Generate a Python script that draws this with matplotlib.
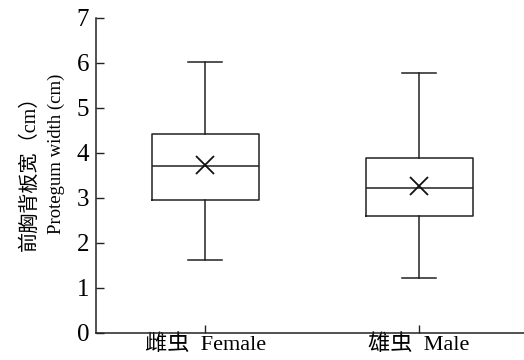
import matplotlib
matplotlib.use("Agg")
import matplotlib.pyplot as plt

categories = ["雌虫  Female", "雄虫  Male"]
whislo = [1.61, 1.21]
q1 = [2.95, 2.60]
med = [3.70, 3.21]
q3 = [4.43, 3.89]
whishi = [6.03, 5.77]
mean = [3.74, 3.26]
yticks = [0, 1, 2, 3, 4, 5, 6, 7]
ylabel_cn = "前胸背板宽（cm）"
ylabel_en = "Protegum width (cm)"

plt.rcParams['font.family'] = ['Liberation Serif', 'Noto Sans CJK SC']

fig = plt.figure(figsize=(5.24, 3.6), dpi=100)
ax = fig.add_axes([96/524, (360-332.7)/360, 1-96/524, (332.7-18)/360])

stats = []
for i, c in enumerate(categories):
    stats.append(dict(label=c, whislo=whislo[i], q1=q1[i], med=med[i], q3=q3[i],
                      whishi=whishi[i], mean=mean[i], fliers=[]))

lp = dict(color='#222222', linewidth=1.1)
ax.bxp(stats, positions=[1, 2], widths=0.5, showmeans=True, meanline=False,
       boxprops=lp, whiskerprops=lp, capprops=lp,
       medianprops=dict(color='#222222', linewidth=1.1),
       meanprops=dict(marker='x', markeredgecolor='#111111', markersize=13, markeredgewidth=1.3),
       capwidths=0.16, showfliers=False)

ax.set_xlim(0.49, 2.49)
ax.set_ylim(0, 7)
ax.set_yticks(yticks)
ax.set_xticks([1, 2])
ax.set_xticklabels(categories)
ax.tick_params(axis='both', direction='in', length=6, width=1.0, labelsize=18, color='#222222')
ax.tick_params(axis='y', pad=5)
ax.tick_params(axis='x', pad=1)
for lbl in ax.get_xticklabels():
    lbl.set_fontsize(16)
for s in ['top', 'right']:
    ax.spines[s].set_visible(False)
for s in ['left', 'bottom']:
    ax.spines[s].set_linewidth(1.1)
    ax.spines[s].set_color('#222222')

fig.text(30/524, 1 - 168/360, ylabel_cn, rotation=90, fontsize=14.5,
         ha='center', va='center')
fig.text(56/524, 1 - 154/360, ylabel_en, rotation=90, fontsize=13.5,
         ha='center', va='center')

fig.savefig("out.png", dpi=100)
